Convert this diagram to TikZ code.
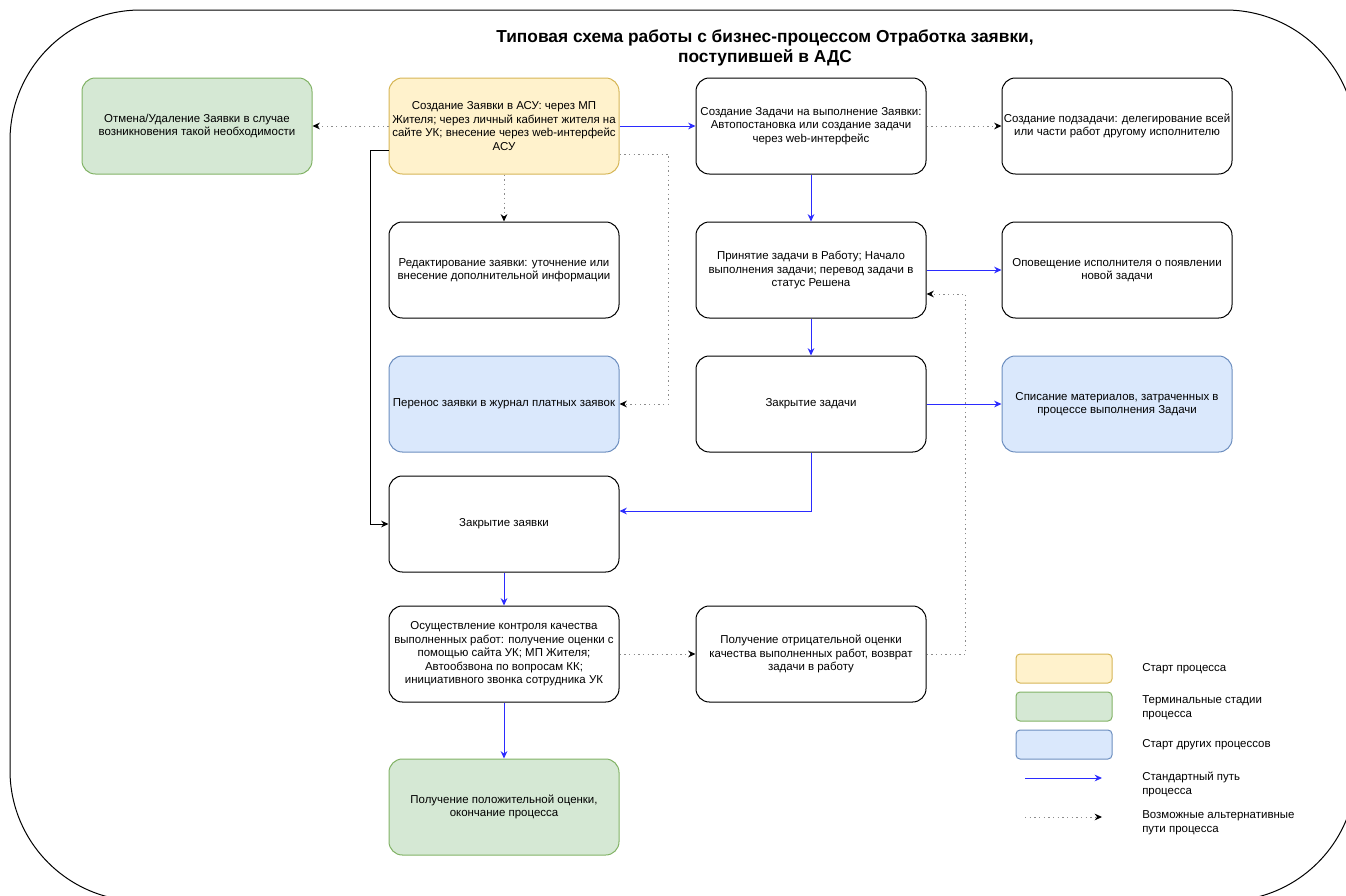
\documentclass[tikz,border=0pt]{standalone}
\usepackage{fontspec}
\setmainfont{Liberation Sans}
\usetikzlibrary{arrows.meta,calc}

\definecolor{startfill}{HTML}{FFF2CC}
\definecolor{startline}{HTML}{D6B656}
\definecolor{endfill}{HTML}{D5E8D4}
\definecolor{endline}{HTML}{82B366}
\definecolor{otherfill}{HTML}{DAE8FC}
\definecolor{otherline}{HTML}{6C8EBF}
\definecolor{pathblue}{HTML}{2B2BFF}

\tikzset{
  box/.style={draw=black, rounded corners=10pt, line width=0.75pt,
    minimum width=172.5pt, minimum height=72pt, inner sep=0pt,
    align=center, font=\fontsize{8.6}{10.1}\selectfont},
  startbox/.style={box, draw=startline, fill=startfill},
  endbox/.style={box, draw=endline, fill=endfill},
  otherbox/.style={box, draw=otherline, fill=otherfill},
  keybox/.style={rounded corners=3pt, line width=0.75pt,
    minimum width=72pt, minimum height=21.75pt},
  keytext/.style={anchor=west, align=left, inner sep=0pt,
    font=\fontsize{8.6}{10.5}\selectfont},
  std/.style={draw=pathblue, line width=0.75pt,
    -{Stealth[length=5.5pt,width=5pt]}},
  alt/.style={draw=black!45, line width=0.75pt, dash pattern=on 1pt off 2.5pt,
    -{Stealth[length=5.5pt,width=5pt,black]}},
}

\begin{document}
\begin{tikzpicture}[x=0.75pt, y=-0.75pt]
  \useasboundingbox (0,0) rectangle (1346,896);
  \clip (0,0) rectangle (1346,896);
  \draw[line width=0.75pt, rounded corners=98pt] (10,10) rectangle (1356,901);

  \node[font=\bfseries\fontsize{13}{15}\selectfont, align=center] (title) at (765,48)
    {Типовая схема работы с бизнес-процессом Отработка заявки,\\поступившей в АДС};

  \node[endbox] (cancel) at (197,126)
    {Отмена/Удаление Заявки в случае\\возникновения такой необходимости};
  \node[startbox] (create) at (504,126)
    {Создание Заявки в АСУ: через МП\\Жителя; через личный кабинет жителя на\\сайте УК; внесение через web-интерфейс\\АСУ};
  \node[box] (task) at (811,126)
    {Создание Задачи на выполнение Заявки:\\Автопостановка или создание задачи\\через web-интерфейс};
  \node[box] (subtask) at (1117,126)
    {Создание подзадачи: делегирование всей\\или части работ другому исполнителю};

  \node[box] (edit) at (504,270)
    {Редактирование заявки: уточнение или\\внесение дополнительной информации};
  \node[box] (accept) at (811,270)
    {Принятие задачи в Работу; Начало\\выполнения задачи; перевод задачи в\\статус Решена};
  \node[box] (notify) at (1117,270)
    {Оповещение исполнителя о появлении\\новой задачи};

  \node[otherbox] (transfer) at (504,404)
    {Перенос заявки в журнал платных заявок};
  \node[box] (closetask) at (811,404) {Закрытие задачи};
  \node[otherbox] (writeoff) at (1117,404)
    {Списание материалов, затраченных в\\процессе выполнения Задачи};

  \node[box] (closereq) at (504,524) {Закрытие заявки};

  \node[box] (control) at (504,654)
    {Осуществление контроля качества\\выполненных работ: получение оценки с\\помощью сайта УК; МП Жителя;\\Автообзвона по вопросам КК;\\инициативного звонка сотрудника УК};
  \node[box] (negative) at (811,654)
    {Получение отрицательной оценки\\качества выполненных работ, возврат\\задачи в работу};

  \node[endbox] (positive) at (504,807)
    {Получение положительной оценки,\\окончание процесса};

  % standard path
  \draw[std] (create) -- (task);
  \draw[std] (task) -- (accept);
  \draw[std] (accept) -- (notify);
  \draw[std] (accept) -- (closetask);
  \draw[std] (closetask) -- (writeoff);
  \draw[std] (closetask.south) |- ($(closereq.east)+(0,-13)$);
  \draw[std] (closereq) -- (control);
  \draw[std] (control) -- (positive);

  % alternative paths
  \draw[alt] (create) -- (cancel);
  \draw[alt] (task) -- (subtask);
  \draw[alt] (create) -- (edit);
  \draw[alt] ($(create.east)+(0,28)$) -- ++(49,0) |- (transfer.east);
  \draw[alt] (control) -- (negative);
  \draw[alt] (negative.east) -- ++(39,0) |- ($(accept.east)+(0,24)$);
  \draw[line width=0.75pt, -{Stealth[length=5.5pt,width=5pt]}]
    ($(create.west)+(0,24)$) -- ++(-18,0) |- (closereq.west);

  % legend
  \node[keybox, draw=startline, fill=startfill] (k1) at (1064,668.5) {};
  \node[keybox, draw=endline, fill=endfill] (k2) at (1064,706.5) {};
  \node[keybox, draw=otherline, fill=otherfill] (k3) at (1064,744.5) {};
  \coordinate (k4a) at (1025,778);
  \coordinate (k4b) at (1102,778);
  \coordinate (k5a) at (1025,817);
  \coordinate (k5b) at (1102,817);
  \draw[std] (k4a) -- (k4b);
  \draw[alt] (k5a) -- (k5b);

  \node[keytext] (t1) at (1142,668.5) {Старт процесса};
  \node[keytext] (t2) at (1142,708) {Терминальные стадии\\процесса};
  \node[keytext] (t3) at (1142,745) {Старт других процессов};
  \node[keytext] (t4) at (1142,784) {Стандартный путь\\процесса};
  \node[keytext] (t5) at (1142,823) {Возможные альтернативные\\пути процесса};
\end{tikzpicture}
\end{document}
